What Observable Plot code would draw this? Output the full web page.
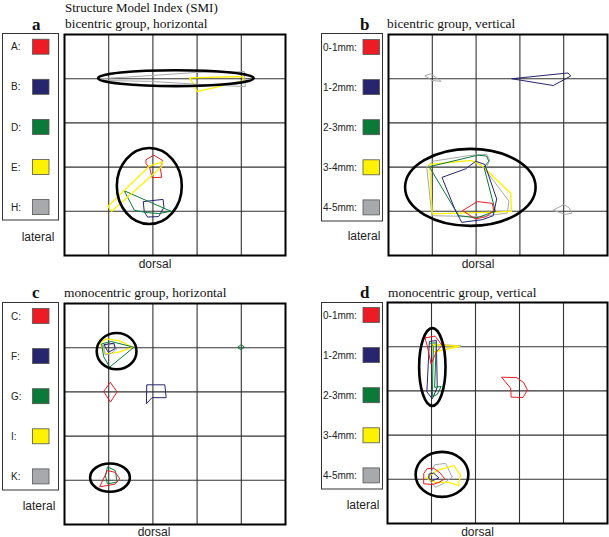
<!DOCTYPE html>
<html>
<head>
<meta charset="utf-8">
<script src="https://cdn.jsdelivr.net/npm/d3@7"></script>
<script src="https://cdn.jsdelivr.net/npm/@observablehq/plot@0.6"></script>
<style>
  body { margin: 0; background: #fff; }
  #fig { position: relative; width: 609px; height: 537px; overflow: hidden; background: #fff; }
  .panel { position: absolute; }
  .panel svg { overflow: visible; background: transparent !important; }
</style>
</head>
<body>
<div id="fig"></div>
<script>
// ---------- data ----------
const title = "Structure Model Index (SMI)";
const panelLetters = ["a", "b", "c", "d"];
const panelTitles = ["bicentric group, horizontal", "bicentric group, vertical",
                     "monocentric group, horizontal", "monocentric group, vertical"];
const groupsA = ["A:", "B:", "D:", "E:", "H:"];
const groupsC = ["C:", "F:", "G:", "I:", "K:"];
const depths = ["0-1mm:", "1-2mm:", "2-3mm:", "3-4mm:", "4-5mm:"];
const swatchColors = ["#ed1c24", "#27256e", "#0b7a38", "#fff200", "#a7a9ac"];
const gridTicks = [1, 2, 3, 4];

// polygons: c = series index (colour), pts = [x, y] in grid units (y downward)
const polyA = [
  {c: 0, pts: [[1.85,2.83],[2.02,2.73],[2.22,2.85],[2.17,3.04],[2.20,3.23],[1.98,3.24],[1.93,3.02],[1.85,2.93]]},
  {c: 1, pts: [[1.79,3.78],[2.23,3.73],[2.25,3.91],[2.13,4.12],[1.88,4.13],[1.81,4.02]]},
  {c: 2, pts: [[1.36,3.54],[2.41,4.00],[2.13,4.05],[1.87,4.03],[1.59,3.98]]},
  {c: 3, pts: [[0.98,3.89],[1.93,2.97],[2.22,2.88],[2.19,3.00],[1.07,4.00]]},
  {c: 3, pts: [[2.83,0.98],[4.03,0.95],[4.05,1.05],[3.00,1.29],[2.95,1.18]]},
  {c: 4, pts: [[0.81,1.00],[1.95,0.93],[2.96,0.86],[4.07,0.84],[4.09,1.18],[3.08,1.13],[1.95,1.06],[0.81,1.04]]}
];
const polyB = [
  {c: 4, pts: [[0.88,3.00],[1.00,2.87],[1.83,2.74],[2.24,2.71],[2.31,2.84],[2.21,3.06],[2.75,3.77],[2.71,4.04],[2.10,4.12],[1.00,4.10]]},
  {c: 4, pts: [[0.84,0.93],[0.97,0.89],[1.20,1.06],[1.00,1.04]]},
  {c: 4, pts: [[3.77,3.97],[4.00,3.85],[4.12,3.92],[4.19,4.04],[4.04,4.07]]},
  {c: 3, pts: [[0.94,2.94],[1.89,2.85],[2.12,2.96],[2.79,3.59],[2.81,4.00],[2.44,4.02],[1.00,4.06]]},
  {c: 2, pts: [[0.94,2.99],[2.04,2.73],[2.24,2.75],[2.29,2.87],[2.18,3.00],[2.44,4.00],[2.01,4.15],[1.61,4.10]]},
  {c: 1, pts: [[1.23,3.23],[1.76,3.04],[1.99,2.87],[2.20,2.94],[2.47,3.72],[2.39,4.10],[2.14,4.19],[1.67,4.25],[1.51,3.94]]},
  {c: 1, pts: [[2.82,1.00],[4.10,0.87],[4.16,0.94],[3.77,1.15]]},
  {c: 0, pts: [[1.70,3.98],[2.03,3.78],[2.37,3.82],[2.40,3.98],[2.24,4.12],[1.99,4.17]]}
];
const polyC = [
  {c: 3, pts: [[0.80,0.90],[0.95,0.80],[1.23,0.84],[1.55,0.99],[1.23,1.10],[0.93,1.14]]},
  {c: 4, pts: [[0.89,0.95],[1.08,0.91],[1.19,1.02],[1.06,1.13],[0.93,1.16]]},
  {c: 1, pts: [[0.90,0.93],[1.12,0.90],[1.15,1.02],[1.00,1.10]]},
  {c: 2, pts: [[0.85,0.91],[1.06,0.86],[1.57,0.99],[1.02,1.44],[0.89,1.21]]},
  {c: 2, pts: [[3.92,0.99],[4.00,0.93],[4.07,0.99],[4.00,1.04]]},
  {c: 0, pts: [[1.04,1.79],[1.19,2.00],[1.04,2.23],[0.89,2.00]]},
  {c: 1, pts: [[1.87,1.84],[2.27,1.84],[2.30,2.13],[1.98,2.13],[1.86,2.26]]},
  {c: 2, pts: [[0.98,3.70],[1.15,3.78],[1.19,4.04],[0.97,4.08],[0.93,3.91]]},
  {c: 0, pts: [[0.80,4.14],[0.97,3.78],[1.15,3.82],[1.25,3.97],[1.15,4.08]]}
];
const polyD = [
  {c: 4, pts: [[1.02,0.94],[1.67,0.98],[1.05,0.99]]},
  {c: 3, pts: [[1.02,0.95],[1.64,0.99],[1.05,1.12]]},
  {c: 1, pts: [[0.96,0.88],[1.11,0.86],[1.13,1.92],[1.02,2.18],[0.90,2.03]]},
  {c: 2, pts: [[0.99,0.92],[1.11,0.91],[1.07,1.92],[1.22,1.90],[1.13,2.08],[1.02,2.13],[1.04,1.00]]},
  {c: 0, pts: [[0.86,0.80],[1.08,0.76],[1.24,0.97],[1.11,1.12],[0.99,1.39],[0.90,0.97]]},
  {c: 0, pts: [[2.60,1.69],[2.94,1.70],[3.10,1.82],[3.18,1.98],[3.08,2.15],[2.81,2.14],[2.80,1.95]]},
  {c: 4, pts: [[1.08,3.67],[1.32,3.64],[1.47,3.95],[1.28,4.09],[1.09,4.18],[0.93,3.99]]},
  {c: 3, pts: [[0.88,3.97],[1.15,3.79],[1.51,3.69],[1.66,3.91],[1.61,4.14],[1.39,4.07],[1.09,4.07]]},
  {c: 0, pts: [[0.83,3.86],[0.90,3.76],[1.05,3.75],[1.20,3.86],[1.30,3.99],[1.17,4.07],[1.02,4.12],[0.83,4.10]]},
  {c: 1, pts: [[0.95,3.88],[1.05,3.86],[1.17,3.97],[1.02,4.03],[0.95,3.99]]}
];
// ellipses: [cx, cy, rx, ry] in grid units
const ellA = [[2.53, 1.00, 1.76, 0.18], [1.93, 3.44, 0.735, 0.86]];
const ellB = [[1.88, 3.47, 1.49, 0.87]];
const ellC = [[1.19, 1.09, 0.45, 0.41], [1.04, 3.95, 0.45, 0.32]];
const ellD = [[1.03, 1.47, 0.30, 0.88], [1.25, 3.90, 0.60, 0.51]];

// ---------- layout ----------
const fig = document.getElementById("fig");
const panels = [
  {polys: polyA, ells: ellA, left: 62,  top: 32,  w: 225, h: 225},
  {polys: polyB, ells: ellB, left: 386, top: 32,  w: 223, h: 225},
  {polys: polyC, ells: ellC, left: 62,  top: 301, w: 225, h: 225},
  {polys: polyD, ells: ellD, left: 385, top: 300, w: 224, h: 225}
];

function ellipseMark(list) {
  return (index, scales) => {
    const g = d3.create("svg:g");
    for (const [cx, cy, rx, ry] of list) {
      const X = scales.x(cx), Y = scales.y(cy);
      g.append("ellipse")
        .attr("cx", X).attr("cy", Y)
        .attr("rx", Math.abs(scales.x(cx + rx) - X))
        .attr("ry", Math.abs(scales.y(cy + ry) - Y))
        .attr("fill", "none").attr("stroke", "#000").attr("stroke-width", 2.6);
    }
    return g.node();
  };
}

for (const p of panels) {
  const chart = Plot.plot({
    width: p.w, height: p.h, margin: 2,
    x: {domain: [0, 5], axis: null},
    y: {domain: [0, 5], reverse: true, axis: null},
    marks: [
      Plot.ruleX(gridTicks, {stroke: "#333", strokeWidth: 1.1}),
      Plot.ruleY(gridTicks, {stroke: "#333", strokeWidth: 1.1}),
      ...p.polys.map(poly => Plot.line(poly.pts, {
        x: d => d[0], y: d => d[1], curve: "linear-closed",
        stroke: swatchColors[poly.c], strokeWidth: poly.c === 3 ? 1.3 : 1
      })),
      ellipseMark(p.ells),
      Plot.frame({stroke: "#000", strokeWidth: 2})
    ]
  });
  const div = document.createElement("div");
  div.className = "panel";
  div.style.left = p.left + "px";
  div.style.top = p.top + "px";
  div.appendChild(chart);
  fig.appendChild(div);
}

// ---------- overlay: text & legends ----------
const svg = d3.select(fig).insert("svg", ":first-child")
  .attr("width", 609).attr("height", 537)
  .style("position", "absolute").style("left", 0).style("top", 0);

const serif = "'Liberation Serif', 'Times New Roman', serif";
const sans = "'Liberation Sans', Arial, sans-serif";

svg.append("text").attr("x", 65).attr("y", 11.8)
  .attr("font-family", serif).attr("font-size", 13).attr("fill", "#111").text(title);

const heads = [
  {lx: 32, tx: 65, y: 28},
  {lx: 360, tx: 387, y: 28},
  {lx: 32, tx: 64, y: 296.5},
  {lx: 360, tx: 388, y: 296.5}
];
heads.forEach((h, i) => {
  svg.append("text").attr("x", h.lx).attr("y", h.y + 1.5)
    .attr("font-family", serif).attr("font-weight", "bold").attr("font-size", 17)
    .attr("fill", "#111").text(panelLetters[i]);
  svg.append("text").attr("x", h.tx).attr("y", h.y)
    .attr("font-family", serif).attr("font-size", 13.4).attr("fill", "#111").text(panelTitles[i]);
});

const legends = [
  {labels: groupsA, x: 2,   y: 33.5,  w: 56, h: 186.5, tx: 11,  sx: 32.5, c0: 46.7, lateral: [38, 241],  dorsal: [155, 268]},
  {labels: depths,  x: 321, y: 33.5,  w: 61, h: 187.5, tx: 323, sx: 363,  c0: 47,   lateral: [364, 240], dorsal: [478, 268]},
  {labels: groupsC, x: 2,   y: 302.5, w: 56, h: 187.5, tx: 11,  sx: 32.5, c0: 316,  lateral: [39, 510],  dorsal: [154, 535.5]},
  {labels: depths,  x: 321, y: 302.5, w: 61, h: 186.5, tx: 323, sx: 363,  c0: 315,  lateral: [363, 508.5], dorsal: [477.5, 535.5]}
];
for (const L of legends) {
  svg.append("rect").attr("x", L.x + 0.5).attr("y", L.y).attr("width", L.w).attr("height", L.h)
    .attr("fill", "#fff").attr("stroke", "#333").attr("stroke-width", 1);
  L.labels.forEach((lab, i) => {
    const cy = L.c0 + i * 40.1;
    svg.append("text").attr("x", L.tx).attr("y", cy + 3.6)
      .attr("font-family", sans).attr("font-size", 10).attr("fill", "#222").text(lab);
    svg.append("rect").attr("x", L.sx).attr("y", cy - 7.5).attr("width", 16.5).attr("height", 15)
      .attr("fill", swatchColors[i]).attr("stroke", "#555").attr("stroke-width", 0.8);
  });
  svg.append("text").attr("x", L.lateral[0]).attr("y", L.lateral[1]).attr("text-anchor", "middle")
    .attr("font-family", sans).attr("font-size", 12).attr("fill", "#222").text("lateral");
  svg.append("text").attr("x", L.dorsal[0]).attr("y", L.dorsal[1]).attr("text-anchor", "middle")
    .attr("font-family", sans).attr("font-size", 12).attr("fill", "#222").text("dorsal");
}
</script>
</body>
</html>
